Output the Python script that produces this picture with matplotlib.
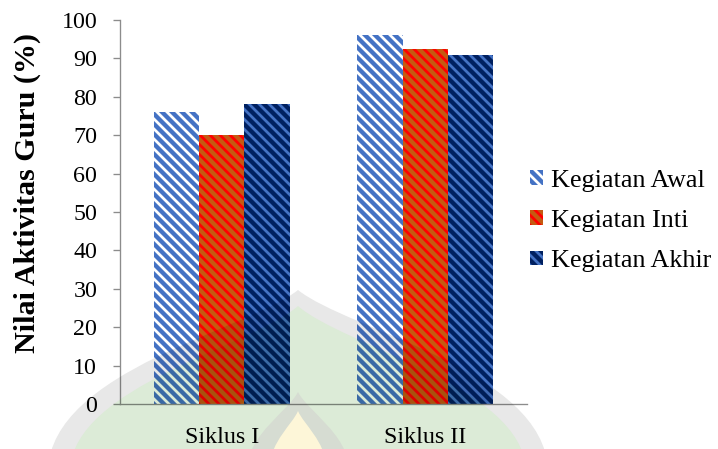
import numpy as np
import matplotlib
matplotlib.use('Agg')
import matplotlib.pyplot as plt
from matplotlib.patches import PathPatch
from matplotlib.path import Path

categories = ['Siklus I', 'Siklus II']
series_names = ['Kegiatan Awal', 'Kegiatan Inti', 'Kegiatan Akhir']
awal = [76, 96]
inti = [70, 92.5]
akhir = [78, 91]
yticks = [0, 10, 20, 30, 40, 50, 60, 70, 80, 90, 100]

W, H, DPI = 718, 449, 120

plt.rcParams['font.family'] = ['Liberation Serif', 'DejaVu Serif']
plt.rcParams['hatch.linewidth'] = 2.6


def fx(x):
    return x / W


def fy(y):
    return 1 - y / H


fig = plt.figure(figsize=(W / DPI, H / DPI), dpi=DPI)
ax = fig.add_axes([fx(120), fy(404), fx(527) - fx(120), fy(20) - fy(404)])

styles = [
    dict(facecolor='white', edgecolor='#4472C4'),
    dict(facecolor='#FF0000', edgecolor='#C55A11'),
    dict(facecolor='#4472C4', edgecolor='#002060'),
]
x = np.arange(len(categories))
width = 0.222
for i, (vals, name, st) in enumerate(zip([awal, inti, akhir], series_names, styles)):
    ax.bar(x + (i - 1) * width, vals, width, hatch='\\\\\\\\', linewidth=0,
           label=name, **st)

ax.set_xlim(-0.5, 1.5)
ax.set_ylim(0, 100)
ax.set_yticks(yticks)
ax.set_xticks(x)
ax.set_xticklabels(categories)
for s in ['top', 'right']:
    ax.spines[s].set_visible(False)
for s in ['left', 'bottom']:
    ax.spines[s].set_color('#8c8c8c')
    ax.spines[s].set_linewidth(0.8)
ax.tick_params(axis='y', length=4.2, width=0.8, color='#8c8c8c', pad=9.5,
               labelsize=14.4, labelcolor='black')
ax.tick_params(axis='x', length=0, pad=14, labelsize=14.4, labelcolor='black')

fig.text(fx(27), fy(193), 'Nilai Aktivitas Guru (%)', rotation=90,
         ha='center', va='center', fontsize=18, fontweight='bold')

handles, labels = ax.get_legend_handles_labels()
leg = fig.legend(handles, labels, loc='center left',
                 bbox_to_anchor=(fx(530), fy(221)), frameon=False,
                 fontsize=15.7, handlelength=0.5, handleheight=0.5,
                 handletextpad=0.3, labelspacing=0.7, borderpad=0,
                 borderaxespad=0)

fig.canvas.draw()
chart = np.asarray(fig.canvas.buffer_rgba())[..., :3].astype(float) / 255


# faint watermark of the source document, multiplied over the chart
def arch(cx, base, top, half, shoulder):
    verts = [(cx - half, base), (cx - half + 4, top + shoulder),
             (cx - 0.2 * half, top + 0.5 * shoulder), (cx, top),
             (cx + 0.2 * half, top + 0.5 * shoulder),
             (cx + half - 4, top + shoulder), (cx + half, base), (cx - half, base)]
    codes = [Path.MOVETO, Path.CURVE4, Path.CURVE4, Path.CURVE4,
             Path.CURVE4, Path.CURVE4, Path.CURVE4, Path.CLOSEPOLY]
    return Path([(fx(a), fy(b)) for a, b in verts], codes)


wm = plt.figure(figsize=(W / DPI, H / DPI), dpi=DPI)
wm.patch.set_facecolor('white')
layers = [
    (arch(298, 470, 290, 250, 80), '#e8e8e8'),
    (arch(298, 470, 306, 228, 80), '#dcebd7'),
    (arch(298, 470, 392, 52, 40), '#d6dcd2'),
    (arch(298, 470, 411, 30, 28), '#fdf6d8'),
]
for path, color in layers:
    wm.patches.append(PathPatch(path, transform=wm.transFigure,
                                facecolor=color, edgecolor='none'))
wm.canvas.draw()
mask = np.asarray(wm.canvas.buffer_rgba())[..., :3].astype(float) / 255

h = min(chart.shape[0], mask.shape[0])
w = min(chart.shape[1], mask.shape[1])
out = chart[:h, :w] * mask[:h, :w]
plt.imsave('out.png', np.clip(out, 0, 1))
